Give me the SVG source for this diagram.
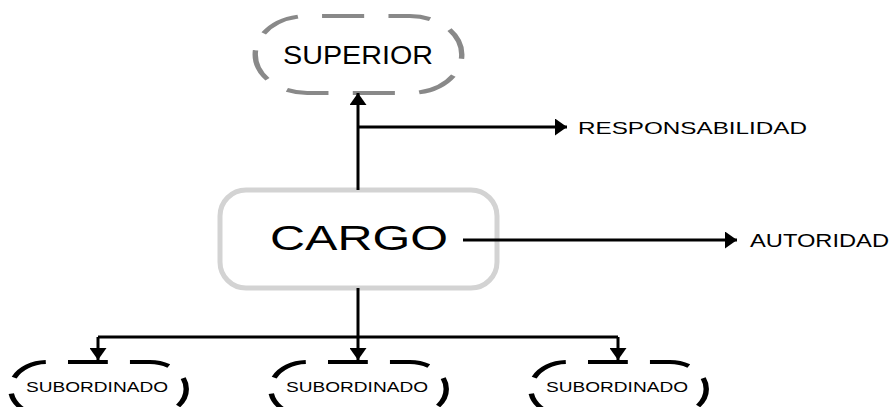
<svg xmlns="http://www.w3.org/2000/svg" width="893" height="407" viewBox="0 0 893 407">
  <style>
    text { font-family: "Liberation Sans", Arial, sans-serif; fill: #000; }
    .wire { fill: none; stroke: #000; stroke-width: 3; }
    /* dashed outlines are drawn in a narrow local frame and widened by 1.35 */
    .sup { fill: none; stroke: #898989; stroke-width: 4; stroke-dasharray: 31.2 18; stroke-dashoffset: 38.2; }
    .sub { fill: none; stroke: #000; stroke-width: 4; stroke-dasharray: 29.5 16.4; stroke-dashoffset: 30.5; }
    .box { fill: none; stroke: #d3d3d3; stroke-width: 5; }
  </style>
  <defs>
    <marker id="arrow" viewBox="0 0 12 17" refX="12" refY="8.5" markerWidth="12" markerHeight="17" markerUnits="userSpaceOnUse" orient="auto">
      <path d="M0,0 L12,8.5 L0,17 z" fill="#000"/>
    </marker>
    <rect id="sub-outline" class="sub" x="-65" y="-27" width="130" height="54" rx="27" ry="27"/>
  </defs>

  <rect width="893" height="407" fill="#fff"/>

  <g id="superior">
    <rect class="sup" x="-76.5" y="-38.5" width="153" height="77" rx="38.5" ry="38.5" transform="translate(358.5 54.5) scale(1.35 1)"/>
    <text x="283" y="64" font-size="25" textLength="150" lengthAdjust="spacingAndGlyphs">SUPERIOR</text>
  </g>

  <g id="cargo">
    <rect class="box" x="220" y="190" width="277" height="98" rx="26" ry="26"/>
    <text x="270" y="250" font-size="35" textLength="178" lengthAdjust="spacingAndGlyphs">CARGO</text>
  </g>

  <g id="responsabilidad">
    <text x="578" y="134" font-size="17" textLength="229" lengthAdjust="spacingAndGlyphs">RESPONSABILIDAD</text>
  </g>

  <g id="autoridad">
    <text x="750" y="247" font-size="19" textLength="139" lengthAdjust="spacingAndGlyphs">AUTORIDAD</text>
  </g>

  <g id="subordinado-1">
    <use href="#sub-outline" transform="translate(98.5 389) scale(1.35 1)"/>
    <text x="26" y="392" font-size="15.5" textLength="142" lengthAdjust="spacingAndGlyphs">SUBORDINADO</text>
  </g>

  <g id="subordinado-2">
    <use href="#sub-outline" transform="translate(358.5 389) scale(1.35 1)"/>
    <text x="286" y="392" font-size="15.5" textLength="142" lengthAdjust="spacingAndGlyphs">SUBORDINADO</text>
  </g>

  <g id="subordinado-3">
    <use href="#sub-outline" transform="translate(618.5 389) scale(1.35 1)"/>
    <text x="546" y="392" font-size="15.5" textLength="142" lengthAdjust="spacingAndGlyphs">SUBORDINADO</text>
  </g>

  <g id="connectors">
    <path class="wire" d="M358 190 V93" marker-end="url(#arrow)"/>
    <path class="wire" d="M358 127 H567" marker-end="url(#arrow)"/>
    <path class="wire" d="M463 240 H737" marker-end="url(#arrow)"/>
    <path class="wire" d="M358 288 V337"/>
    <path class="wire" d="M98 337 H618"/>
    <path class="wire" d="M98 337 V360" marker-end="url(#arrow)"/>
    <path class="wire" d="M358 337 V360" marker-end="url(#arrow)"/>
    <path class="wire" d="M618 337 V360" marker-end="url(#arrow)"/>
  </g>
</svg>
